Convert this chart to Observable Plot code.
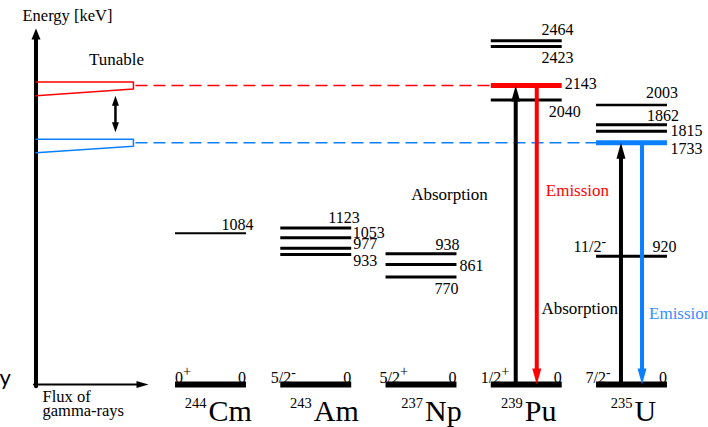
<!DOCTYPE html>
<html><head><meta charset="utf-8">
<script src="https://cdn.jsdelivr.net/npm/d3@7"></script>
<script src="https://cdn.jsdelivr.net/npm/@observablehq/plot@0.6"></script>
<style>html,body{margin:0;padding:0;background:#fff;}</style>
</head><body><div id="chart"></div>
<script>
// ---------- data ----------
const nuclides = ["Cm", "Am", "Np", "Pu", "U"];
const massNumbers = [244, 243, 237, 239, 235];
const groundSpins = ["0⁺", "5/2⁻", "5/2⁺", "1/2⁺", "7/2⁻"];
const levelNuclides = ["Cm","Am","Am","Am","Am","Np","Np","Np","Pu","Pu","Pu","Pu","U","U","U","U","U"];
const levelEnergies = [1084,1123,1053,977,933,938,861,770,2464,2423,2143,2040,2003,1862,1815,1733,920];
const levelSpins = ["","","","","","","","","","","","","","","","","11/2⁻"];
const transitionNuclides = ["Pu", "Pu", "U", "U"];
const transitionKinds = ["Absorption", "Emission", "Absorption", "Emission"];
const transitionFrom = [0, 2143, 0, 1733];
const transitionTo = [2143, 0, 1733, 0];
const tunableEnergies = [2143, 1733];
const axisTitle = "Energy [keV]";
const fluxTitle = "Flux of\ngamma-rays";
const tunableTitle = "Tunable";

// ---------- layout / style ----------
const RED = "#ff0000", BLUE = "#0a80ff", BLUE_TEXT = "#3a8dff";
const tunableColors = [RED, BLUE];
const colPx = 105.25;          // pixels per column unit
const half = 0.337;            // half width of a level line (column units)
const axisX = -1.658, axisTop = 2552, fluxTip = -0.589;
const wedgeRight = -0.732, dashStart = -0.713, dblX = -0.903;
const col = n => nuclides.indexOf(n);
const FONT = "Liberation Serif";

const levelLayout = { // anchor, dx, dy (px) relative to the right end of the line
  1084:["end",7.5,-8], 1123:["end",8.5,-10], 1053:["start",1.5,-4.5], 977:["start",2,-4.5], 933:["start",2,6],
  938:["end",3,-9], 861:["start",3,1.5], 770:["end",2,11.5],
  2464:["end",11.7,-11], 2423:["end",11.7,11.6], 2143:["start",3,-2], 2040:["end",19,12],
  2003:["end",11,-12], 1862:["end",12,-9], 1815:["start",3.5,0], 1733:["start",3.5,6], 920:["end",9.5,-9.5]
};
const spinDx = [0, -9.5, -6, -10, -10.5];
const elemDx = [-2, -2, 4, -1.5, 3];
const transLabel = [[1362,"end",-28],[1391,"start",9],[545,"end",-3],[509,"start",7]];

const levelWidth = e => tunableEnergies.includes(e) ? 5 : (e === 1084 ? 2 : e === 2003 ? 2.5 : 3);
const levelColor = e => tunableEnergies.includes(e) ? tunableColors[tunableEnergies.indexOf(e)] : "black";

const levels = levelEnergies.map((E, i) => ({n: levelNuclides[i], E, spin: levelSpins[i]}));
const grounds = nuclides.map((n, i) => ({n, E: 0, A: massNumbers[i], spin: groundSpins[i], i}));
const trans = transitionKinds.map((k, i) => ({
  n: transitionNuclides[i], kind: k, from: transitionFrom[i], to: transitionTo[i],
  x: col(transitionNuclides[i]) + (k === "Absorption" ? -0.1 : 0.1),
  color: k === "Absorption" ? "black" : tunableColors[tunableEnergies.indexOf(transitionFrom[i])],
  up: transitionTo[i] > transitionFrom[i], i
}));

const arrowHead = (w, l) => ({draw(ctx) { ctx.moveTo(0, 0); ctx.lineTo(w / 2, l); ctx.lineTo(-w / 2, l); ctx.closePath(); }});
const head = (data, o) => Plot.dot(data, {stroke: "none", ...o});

const txt = (text, x, y, o = {}) => Plot.text([{x, y, text}], {x: "x", y: "y", text: "text", fontFamily: FONT, fontSize: 16, fill: "black", ...o});

const marks = [];
// axes
marks.push(Plot.arrow([0], {x1: () => axisX, x2: () => axisX, y1: () => -12, y2: () => axisTop, strokeWidth: 4, headLength: 0, insetEnd: 8, stroke: "black"}));
marks.push(head([0], {x: () => axisX, y: () => axisTop, symbol: arrowHead(9, 11), fill: "black"}));
marks.push(Plot.arrow([0], {x1: () => axisX - 2 / colPx, x2: () => fluxTip, y1: () => 0, y2: () => 0, strokeWidth: 2, headLength: 0, insetEnd: 8, stroke: "black"}));
marks.push(head([0], {x: () => fluxTip, y: () => 0, symbol: arrowHead(7, 12), rotate: 90, fill: "black"}));

// tunable wedges
const wedgePts = tunableEnergies.flatMap((E, k) => [
  {k, x: axisX, y: E + 25}, {k, x: wedgeRight, y: E + 25}, {k, x: wedgeRight, y: E - 25}, {k, x: axisX, y: E - 72}]);
marks.push(Plot.line(wedgePts, {x: "x", y: "y", z: "k", stroke: d => tunableColors[d.k], strokeWidth: 1.5, curve: "linear"}));
// dashed lines to resonant levels
marks.push(Plot.link(tunableEnergies, {
  x1: () => dashStart, x2: E => col(levelNuclides[levelEnergies.indexOf(E)]) - half,
  y1: E => E, y2: E => E, stroke: (E, i) => tunableColors[i], strokeWidth: 1.5, strokeDasharray: "12,6"}));
// double arrow
marks.push(Plot.arrow([0], {x1: () => dblX, x2: () => dblX, y1: () => tunableEnergies[0] - 72, y2: () => tunableEnergies[1] + 75, strokeWidth: 2.5, headLength: 0, insetStart: 7, insetEnd: 7, stroke: "black"}));
marks.push(head([0], {x: () => dblX, y: () => tunableEnergies[0] - 72, symbol: arrowHead(7, 10), fill: "black"}));
marks.push(head([0], {x: () => dblX, y: () => tunableEnergies[1] + 75, symbol: arrowHead(7, 10), rotate: 180, fill: "black"}));

// levels
marks.push(Plot.link(levels, {x1: d => col(d.n) - half, x2: d => col(d.n) + half, y1: "E", y2: "E",
  stroke: d => levelColor(d.E), strokeWidth: d => levelWidth(d.E)}));
// ground states
marks.push(Plot.link(grounds, {x1: d => col(d.n) - half, x2: d => col(d.n) + half, y1: "E", y2: "E", stroke: "black", strokeWidth: 6}));

// transitions
marks.push(Plot.arrow(trans, {x1: "x", x2: "x", y1: "from", y2: "to", stroke: "color", strokeWidth: 4, headLength: 0, insetEnd: 11}));
marks.push(head(trans, {x: "x", y: "to", symbol: arrowHead(9, 16), rotate: d => d.up ? 0 : 180, fill: "color", dy: 0}));

// level labels
levels.forEach(d => {
  const [anchor, dx, dy] = levelLayout[d.E];
  marks.push(txt(String(d.E), col(d.n) + half, d.E, {textAnchor: anchor, dx, dy}));
  if (d.spin) marks.push(txt(d.spin, col(d.n) - half, d.E, {textAnchor: "start", dx: -22.5, dy}));
});
// ground labels
grounds.forEach(d => {
  marks.push(txt(d.spin, col(d.n) - half, 0, {textAnchor: "start", dx: spinDx[d.i], dy: -7}));
  marks.push(txt("0", col(d.n) + half, 0, {textAnchor: "end", dy: -7}));
  marks.push(txt(String(d.A), col(d.n), 0, {textAnchor: "end", dx: elemDx[d.i] - 2, dy: 18.5, fontSize: 14.5}));
  marks.push(txt(d.n, col(d.n), 0, {textAnchor: "start", dx: elemDx[d.i], dy: 26.4, fontSize: 30}));
});
// transition labels
trans.forEach(d => {
  const [E, anchor, dx] = transLabel[d.i];
  const fill = d.kind === "Absorption" ? "black" : (d.color === BLUE ? BLUE_TEXT : RED);
  marks.push(txt(d.kind, d.x, E, {textAnchor: anchor, dx, fill, fontSize: 17}));
});
// titles
marks.push(txt(axisTitle, axisX, axisTop, {textAnchor: "start", dx: -13.5, dy: -13, fontSize: 16.5}));
marks.push(txt(tunableTitle, dblX, tunableEnergies[0], {dx: 1, dy: -26, fontSize: 17}));
marks.push(txt(fluxTitle, axisX, 0, {textAnchor: "start", dx: 6.5, dy: 20, fontSize: 16.5, lineHeight: 0.87}));
marks.push(txt("y", -1.995, 0, {textAnchor: "start", dx: -1, dy: -7, fontSize: 22, fontFamily: "Lato"}));

const chart = Plot.plot({
  width: 708, height: 427, margin: 0,
  x: {type: "linear", domain: [-1.9952, 4.7316], axis: null},
  y: {type: "linear", domain: [-308, 2753], axis: null},
  color: {type: "identity"},
  style: {background: "white", fontFamily: FONT},
  marks
});
// render parity superscripts as raised text
const SVGNS = "http://www.w3.org/2000/svg";
chart.querySelectorAll("text").forEach(t => {
  const m = t.textContent.match(/^(.*)([⁺⁻])$/);
  if (!m) return;
  t.textContent = m[1];
  const ts = document.createElementNS(SVGNS, "tspan");
  ts.setAttribute("dy", "-0.45em");
  ts.setAttribute("font-size", m[2] === "⁺" ? "0.9em" : "0.85em");
  ts.textContent = m[2] === "⁺" ? "+" : "-";
  t.appendChild(ts);
});
document.getElementById("chart").appendChild(chart);
</script>
</body></html>
